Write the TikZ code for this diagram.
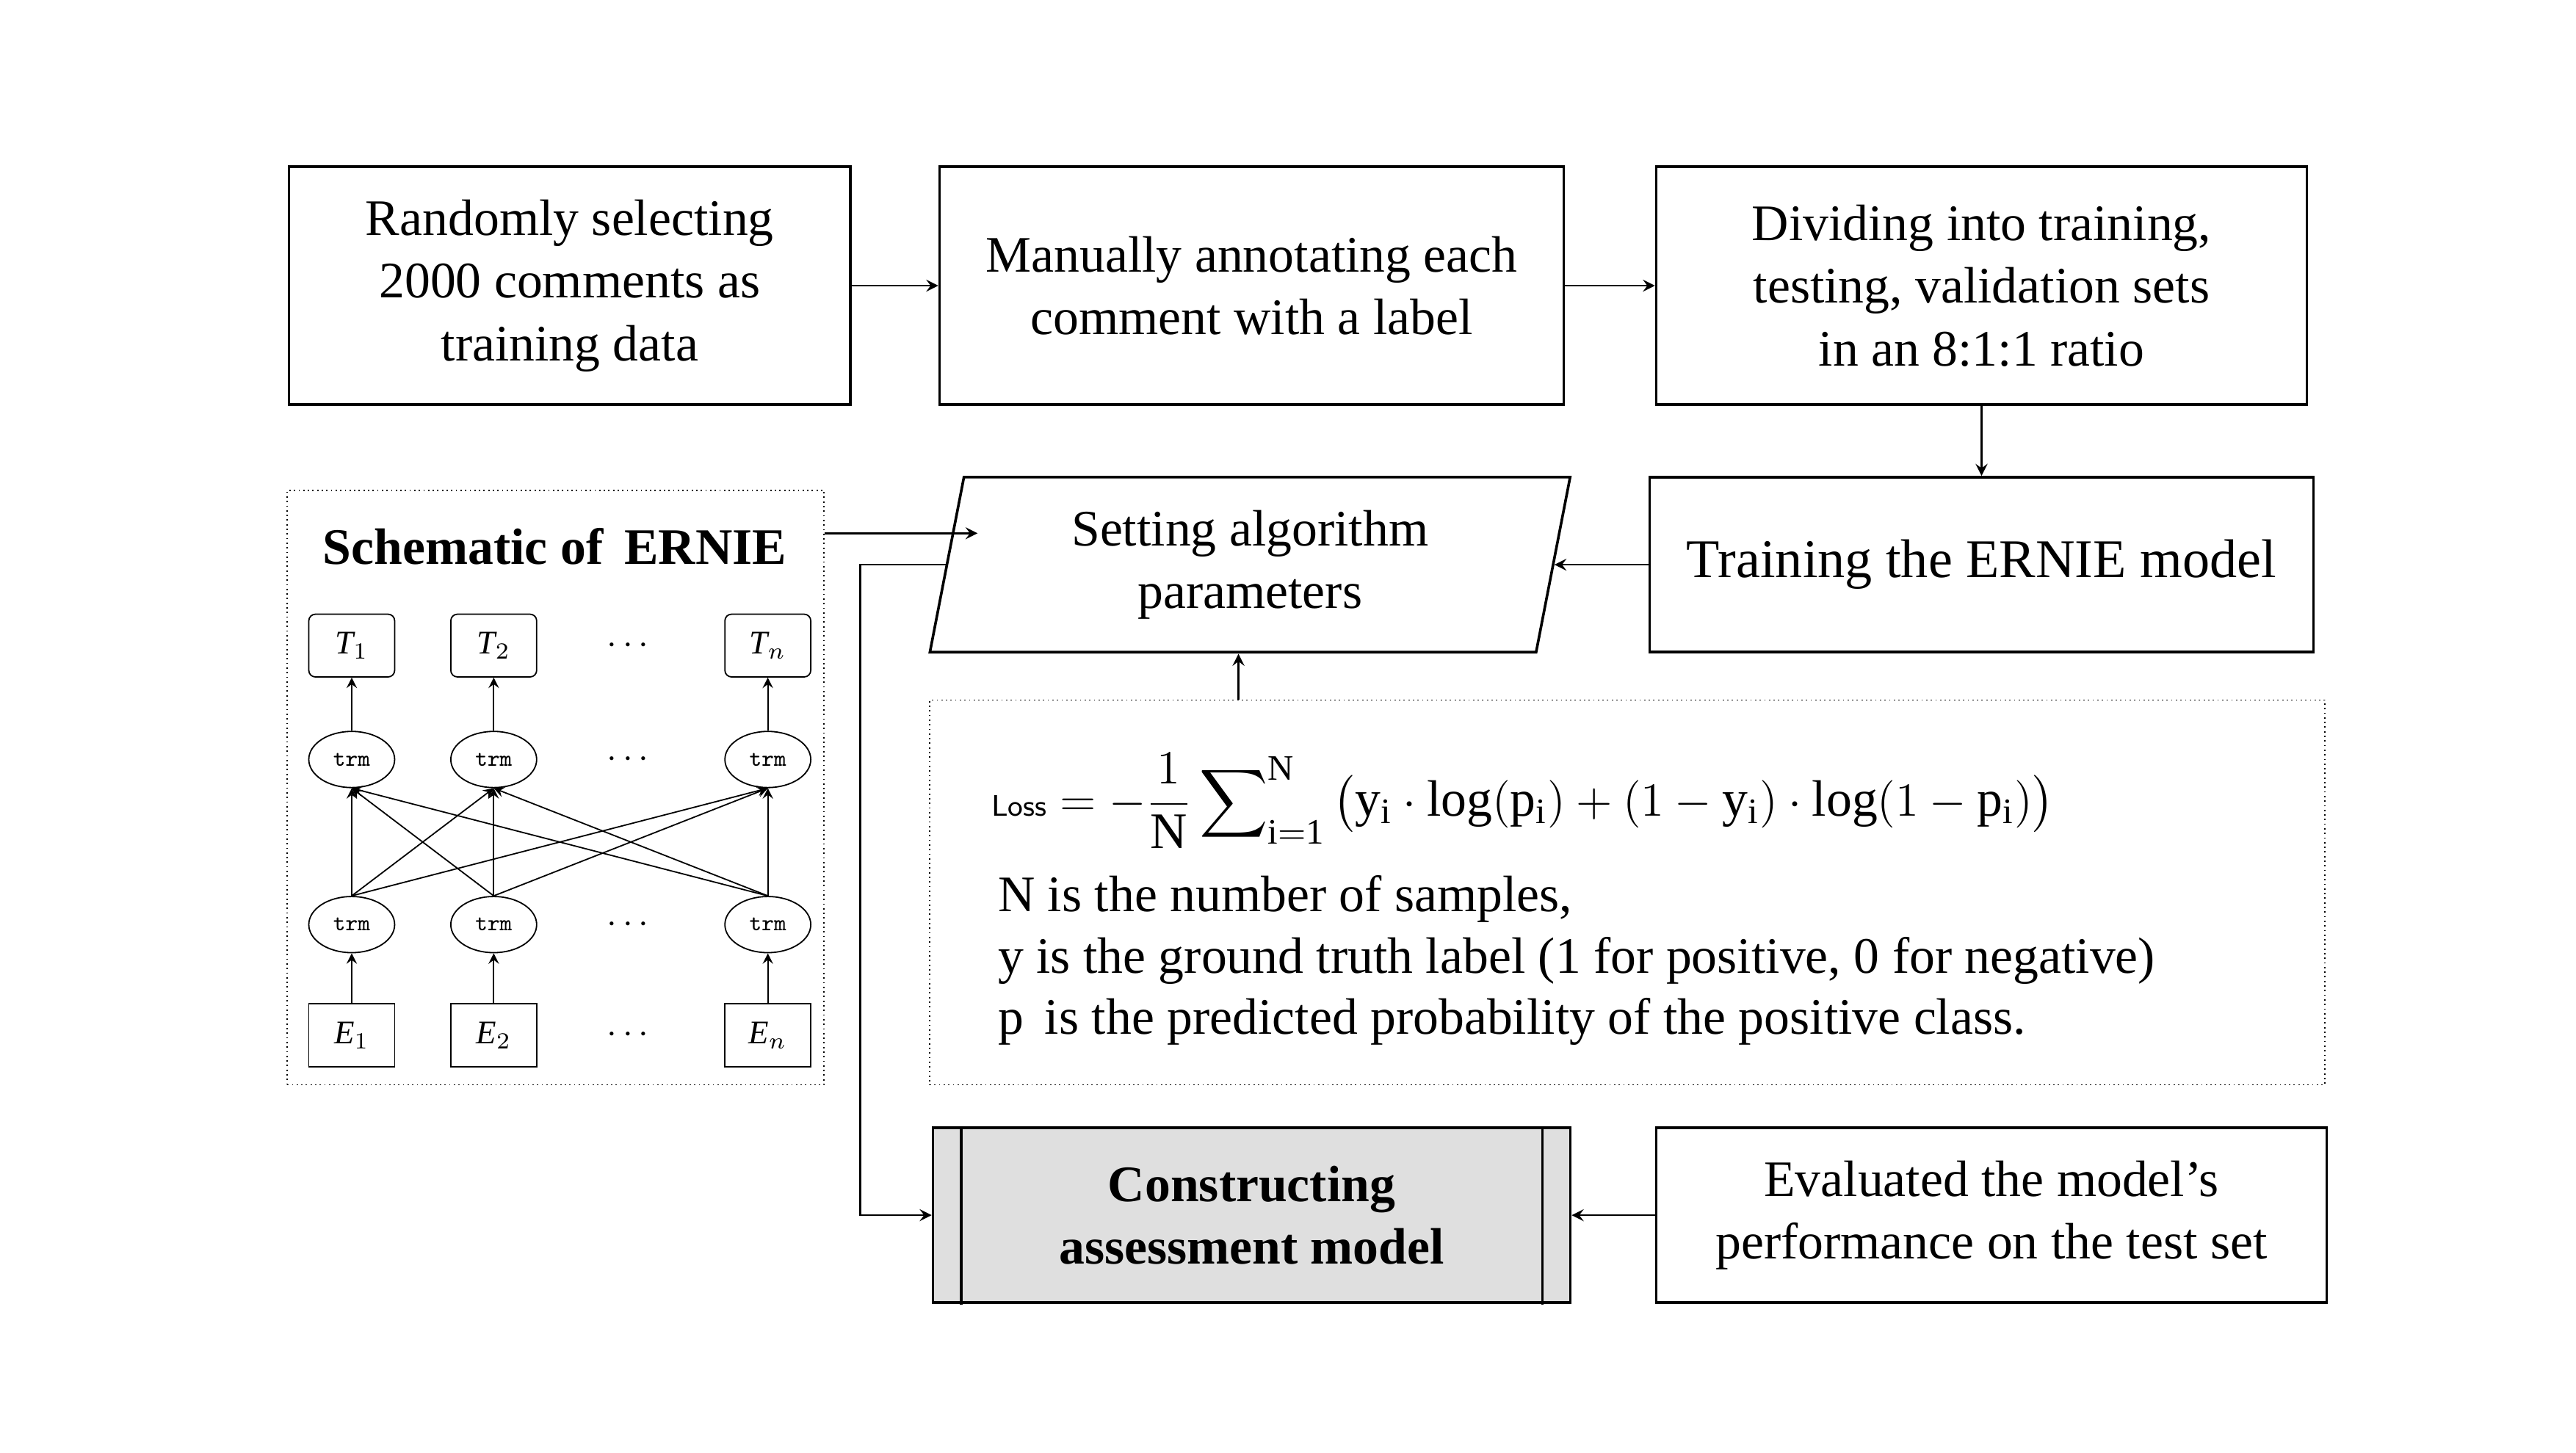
\documentclass[tikz,border=0pt]{standalone}
\usepackage{amsmath}
\usepackage{fontspec}
\setmainfont{Liberation Serif}
\usepackage{tikz}
\usetikzlibrary{shapes.geometric}

\tikzset{
  box/.style={draw, thick, minimum height=72pt, align=center, inner sep=0pt, font=\fontsize{15.5}{19}\selectfont},
  arr/.style={->, >=stealth, semithick},
  tok/.style={draw, rounded corners=2pt, minimum width=26pt, minimum height=19pt, inner sep=0pt, font=\fontsize{10}{12}\selectfont\itshape},
  emb/.style={draw, minimum width=26pt, minimum height=19pt, inner sep=0pt, font=\fontsize{10}{12}\selectfont\itshape},
  trm/.style={draw, ellipse, minimum width=26pt, minimum height=17pt, inner sep=0pt, font=\fontsize{7}{8}\selectfont\ttfamily},
  dots/.style={inner sep=0pt, font=\fontsize{11}{12}\selectfont}
}

\begin{document}
\begin{tikzpicture}[x=0.5pt,y=-0.5pt]
\useasboundingbox (0,0) rectangle (1560,880);

% top row
\node (sel) [box, minimum width=170pt] at (345,173) {Randomly selecting\\2000 comments as\\training data};
\node (ann) [box, minimum width=189pt] at (758,173) {Manually annotating each\\comment with a label};
\node (div) [box, minimum width=197pt] at (1200,173) {Dividing into training,\\testing, validation sets\\in an 8:1:1 ratio};
\draw [arr] (sel) -- (ann);
\draw [arr] (ann) -- (div);

% middle row
\node (trn) [box, minimum width=201pt, minimum height=53pt, font=\fontsize{16.5}{19}\selectfont] at (1200,342) {Training the ERNIE model};
\draw [arr] (div) -- (trn);
\node (par) [draw, thick, trapezium, trapezium left angle=79, trapezium right angle=101, minimum width=170pt, minimum height=53pt, inner sep=0pt, align=center, font=\fontsize{15.5}{19}\selectfont] at (757,342) {Setting algorithm\\parameters};
\draw [arr] (trn) -- (par.east |- trn);

% schematic of ERNIE
\node (sch) [draw, densely dotted, minimum width=162.5pt, minimum height=180pt, inner sep=0pt] at (336.5,477) {};
\node (tit) [font=\fontsize{15.5}{19}\selectfont\bfseries] at (336,331) {Schematic of\, ERNIE};
\coordinate (pin) at (592,323);
\draw [arr] (sch.east |- pin) -- (pin);

\foreach \n/\x/\s in {1/213/1, 2/299/2, 3/465/n} {
  \node (t\n) [tok] at (\x,391) {T$_{\s}$};
  \node (u\n) [trm] at (\x,460) {trm};
  \node (l\n) [trm] at (\x,560) {trm};
  \node (e\n) [emb] at (\x,627) {E$_{\s}$};
  \draw [arr, thin] (u\n) -- (t\n);
  \draw [arr, thin] (e\n) -- (l\n);
}
\foreach \a in {1,2,3}
  \foreach \b in {1,2,3}
    \draw [arr, thin] (l\a.north) -- (u\b.south);
\foreach \y in {391,460,560,627}
  \node [dots] at (382,\y) {$\cdots$};

% loss
\node (los) [draw, densely dotted, minimum width=422.5pt, minimum height=116.5pt, inner sep=0pt] at (985.5,540.5) {};
\draw [arr] (los.north -| 750,0) -- (750,396);
\node [anchor=west, inner sep=0pt, font=\fontsize{15.5}{19}\selectfont] at (600,485)
  {$\text{\sffamily\small Loss}=-\dfrac{1}{\mathrm{N}}\displaystyle\sum\nolimits_{\mathrm{i=1}}^{\mathrm{N}}\big(\mathrm{y_i}\cdot\log(\mathrm{p_i})+(1-\mathrm{y_i})\cdot\log(1-\mathrm{p_i})\big)$};
\node [anchor=north west, inner sep=0pt, align=left, font=\fontsize{15.5}{18.5}\selectfont] at (604,530)
  {N is the number of samples,\\y is the ground truth label (1 for positive, 0 for negative)\\p\, is the predicted probability of the positive class.};

% bottom row
\node (con) [box, minimum width=193pt, minimum height=53pt, fill=gray!25, font=\fontsize{15.5}{19}\selectfont\bfseries] at (758,736) {Constructing\\assessment model};
\draw [thick] (582,682) -- (582,790) (934,682) -- (934,790);
\node (eva) [box, minimum width=203pt, minimum height=53pt] at (1206,736) {Evaluated the model's\\performance on the test set};
\draw [arr] (eva) -- (con);
\coordinate (bend) at (521,342);
\draw [arr] (par.west |- bend) -- (bend) |- (con.west);
\end{tikzpicture}
\end{document}
